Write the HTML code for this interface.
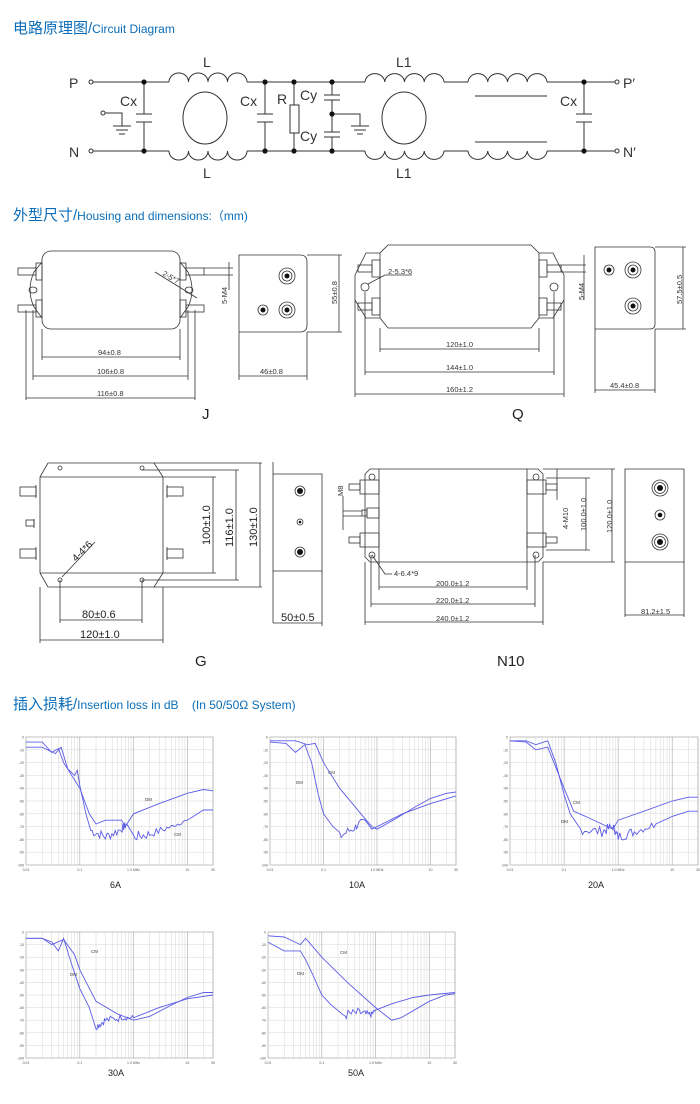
<!DOCTYPE html>
<html><head><meta charset="utf-8"><style>
html,body{margin:0;padding:0;background:#fff}
body{width:700px;height:1104px;overflow:hidden;position:relative;font-family:"Liberation Sans","Noto Sans CJK SC",sans-serif}
.t{position:absolute;color:#0b6db7;font-size:15px;white-space:nowrap}
.t small{font-size:12px}
svg{position:absolute;left:0;top:0}
</style></head><body>
<div class="t" style="left:13px;top:17px">电路原理图/<small>Circuit Diagram</small></div>
<div class="t" style="left:13px;top:204px">外型尺寸/<small>Housing and dimensions:（mm)</small></div>
<div class="t" style="left:13px;top:693px">插入损耗/<small>Insertion loss in dB &nbsp;&nbsp;&nbsp;(In 50/50Ω System)</small></div>
<svg id="s" width="700" height="1104" viewBox="0 0 700 1104" font-family="Liberation Sans, sans-serif">
<g stroke="#333" stroke-width="1" fill="none">
<!-- circuit wires -->
<path d="M93 82H169M247 82H365M444 82H468M547 82H615M93 151H169M247 151H365M444 151H468M547 151H615"/>
<circle cx="91" cy="82" r="2"/><circle cx="91" cy="151" r="2"/><circle cx="617" cy="82" r="2"/><circle cx="617" cy="151" r="2"/>
<path id="ind" d="M169 82a9.75 9 0 0 1 19.5 0a9.75 9 0 0 1 19.5 0a9.75 9 0 0 1 19.5 0a9.75 9 0 0 1 19.5 0"/>
<path d="M169 151a9.75 9 0 0 0 19.5 0a9.75 9 0 0 0 19.5 0a9.75 9 0 0 0 19.5 0a9.75 9 0 0 0 19.5 0"/>
<path d="M365 82a9.9 9 0 0 1 19.75 0a9.9 9 0 0 1 19.75 0a9.9 9 0 0 1 19.75 0a9.9 9 0 0 1 19.75 0"/>
<path d="M365 151a9.9 9 0 0 0 19.75 0a9.9 9 0 0 0 19.75 0a9.9 9 0 0 0 19.75 0a9.9 9 0 0 0 19.75 0"/>
<path d="M468 82a9.9 9 0 0 1 19.75 0a9.9 9 0 0 1 19.75 0a9.9 9 0 0 1 19.75 0a9.9 9 0 0 1 19.75 0"/>
<path d="M468 151a9.9 9 0 0 0 19.75 0a9.9 9 0 0 0 19.75 0a9.9 9 0 0 0 19.75 0a9.9 9 0 0 0 19.75 0"/>
<ellipse cx="205" cy="118" rx="22" ry="26"/><ellipse cx="404" cy="118" rx="22" ry="26"/>
<path d="M475 96H547M475 142H547"/>
<!-- caps -->
<path d="M144 82V114M136 114H152M136 122H152M144 122V151"/>
<path d="M265 82V114M257 114H273M257 122H273M265 122V151"/>
<path d="M584 82V114M576 114H592M576 122H592M584 122V151"/>
<path d="M294 82V105M294 133V151"/><rect x="290" y="105" width="9" height="28"/>
<path d="M332 82V95M324 95H340M324 100H340M332 100V132M324 132H340M324 137H340M332 137V151M332 114H360V126M351 126H369M354 130H366M357 134H363"/>
<path d="M105 113H122V126M113 126H131M116 130H128M119 134H125"/><circle cx="103" cy="113" r="2"/>
</g>
<g fill="#111"><circle cx="144" cy="82" r="2.6"/><circle cx="144" cy="151" r="2.6"/><circle cx="265" cy="82" r="2.6"/><circle cx="265" cy="151" r="2.6"/><circle cx="294" cy="82" r="2.6"/><circle cx="294" cy="151" r="2.6"/><circle cx="332" cy="82" r="2.6"/><circle cx="332" cy="151" r="2.6"/><circle cx="332" cy="114" r="2.6"/><circle cx="584" cy="82" r="2.6"/><circle cx="584" cy="151" r="2.6"/></g>
<g font-size="14" fill="#333">
<text x="69" y="88">P</text><text x="69" y="157">N</text><text x="623" y="88">P′</text><text x="623" y="157">N′</text>
<text x="203" y="67">L</text><text x="203" y="178">L</text><text x="396" y="67">L1</text><text x="396" y="178">L1</text>
<text x="120" y="106">Cx</text><text x="240" y="106">Cx</text><text x="277" y="104">R</text><text x="300" y="100">Cy</text><text x="300" y="141">Cy</text><text x="560" y="106">Cx</text>
</g>

<!-- J -->
<g stroke="#333" stroke-width="0.8" fill="none">
<rect x="42" y="251" width="138" height="78" rx="9"/>
<path d="M42 262L34 272Q26 290 34 307L42 318M180 262L188 272Q196 290 188 307L180 318"/>
<ellipse cx="33" cy="290" rx="4" ry="3"/><ellipse cx="189" cy="290" rx="4" ry="3"/>
<rect x="36" y="263" width="6" height="17"/><rect x="36" y="300" width="6" height="17"/><rect x="180" y="263" width="6" height="17"/><rect x="180" y="300" width="6" height="17"/>
<rect x="18" y="268" width="18" height="7"/><rect x="18" y="305" width="18" height="7"/><rect x="186" y="268" width="18" height="7"/><rect x="186" y="305" width="18" height="7"/>
<path d="M42 329V360M180 329V360M33 310V380M188 310V380M26 310V400M195 310V400"/>
<path d="M42 357H180M33 376H188M26 398H195"/>
<path d="M204 268H233M204 275H233M229 262V290M155 272L197 298"/>
<path d="M239 255H300Q307 255 307 262V325Q307 332 300 332H239ZM239 332V380M307 332V380M239 376H307M307 255H342M307 332H342M339 255V332"/>
<circle cx="287" cy="276" r="8"/><circle cx="287" cy="276" r="5"/><circle cx="287" cy="310" r="8"/><circle cx="287" cy="310" r="5"/><circle cx="263" cy="310" r="5"/>
</g>
<g fill="#111"><circle cx="287" cy="276" r="2.5"/><circle cx="287" cy="310" r="2.5"/><circle cx="263" cy="310" r="2.5"/></g>
<g font-size="7.5" fill="#333">
<text x="98" y="355">94±0.8</text><text x="97" y="374">106±0.8</text><text x="97" y="396">116±0.8</text><text x="260" y="374">46±0.8</text>
<text transform="translate(162,275) rotate(30)">2-5*7</text>
<text transform="translate(227,304) rotate(-90)">5-M4</text>
<text transform="translate(337,304) rotate(-90)">55±0.8</text>
</g>
<text x="202" y="419" font-size="15" fill="#222">J</text>

<!-- Q -->
<g stroke="#333" stroke-width="0.8" fill="none">
<path d="M388 245H531L539 253H553L564 275V300L553 318H539L531 328H388L380 318H366L355 300V275L366 253H380Z"/>
<path d="M380 253V318M539 253V318"/>
<circle cx="365" cy="287" r="4"/><circle cx="554" cy="287" r="4"/>
<rect x="372" y="260" width="8" height="17"/><rect x="372" y="298" width="8" height="17"/><rect x="539" y="260" width="8" height="17"/><rect x="539" y="298" width="8" height="17"/>
<rect x="358" y="265" width="14" height="7"/><rect x="358" y="303" width="14" height="7"/><rect x="547" y="265" width="14" height="7"/><rect x="547" y="303" width="14" height="7"/>
<path d="M380 328V352M539 328V352M365 292V375M554 292V375M355 300V397M564 300V397"/>
<path d="M380 349H539M365 372H554M355 394H564"/>
<path d="M561 265H586M561 272H586M584 255V300M368 284L385 275H412"/>
<path d="M595 247H650Q655 247 655 252V324Q655 329 650 329H595ZM595 329V393M655 329V393M595 390H655M655 247H686M655 329H686M683 247V329"/>
<circle cx="633" cy="270" r="8"/><circle cx="633" cy="270" r="5"/><circle cx="633" cy="306" r="8"/><circle cx="633" cy="306" r="5"/><circle cx="609" cy="270" r="5"/>
</g>
<g fill="#111"><circle cx="633" cy="270" r="2.5"/><circle cx="633" cy="306" r="2.5"/><circle cx="609" cy="270" r="2.5"/></g>
<g font-size="7.5" fill="#333">
<text x="446" y="347">120±1.0</text><text x="446" y="370">144±1.0</text><text x="446" y="392">160±1.2</text><text x="610" y="388">45.4±0.8</text>
<text x="388" y="274">2-5.3*6</text>
<text transform="translate(584,300) rotate(-90)">5-M4</text>
<text transform="translate(682,304) rotate(-90)">57.5±0.5</text>
</g>
<text x="512" y="419" font-size="15" fill="#222">Q</text>

<!-- G -->
<g stroke="#333" stroke-width="0.8" fill="none">
<path d="M48 463H154L163 477V573L154 587H48L40 573V477Z"/><path d="M40 477H163M40 573H163"/>
<circle cx="60" cy="468" r="2"/><circle cx="142" cy="468" r="2"/><circle cx="60" cy="580" r="2"/><circle cx="142" cy="580" r="2"/>
<rect x="20" y="487" width="16" height="9"/><rect x="20" y="549" width="16" height="9"/><rect x="167" y="487" width="16" height="9"/><rect x="167" y="549" width="16" height="9"/>
<rect x="26" y="520" width="8" height="6"/>
<path d="M36 485V498M36 547V560M167 485V498M167 547V560M34 519V528"/>
<path d="M163 477H216M163 573H216M142 470H239M142 580H239M154 463H262M154 587H262M213 477V573M236 470V580M260 463V587"/>
<path d="M60 580V623M142 580V623M60 620H142M40 587V643M163 587V643M40 640H163M62 577L95 542"/>
<path d="M273 474H322V571H273ZM273 462V623M322 571V626M273 623H322"/>
<circle cx="300" cy="491" r="5"/><circle cx="300" cy="552" r="5"/><circle cx="300" cy="522" r="3"/>
</g>
<g fill="#111"><circle cx="300" cy="491" r="3"/><circle cx="300" cy="552" r="3"/><circle cx="300" cy="522" r="1.3"/></g>
<g font-size="11" fill="#222">
<text x="82" y="618">80±0.6</text><text x="80" y="638">120±1.0</text><text x="281" y="621">50±0.5</text>
<text transform="translate(210,545) rotate(-90)">100±1.0</text>
<text transform="translate(233,547) rotate(-90)">116±1.0</text>
<text transform="translate(257,547) rotate(-90)">130±1.0</text>
<text transform="translate(76,562) rotate(-45)" font-size="10">4-4*6</text>
</g>
<text x="195" y="666" font-size="15" fill="#222">G</text>

<!-- N10 -->
<g stroke="#333" stroke-width="0.8" fill="none">
<path d="M370 469H538L543 474V557L538 562H370L365 557V474Z"/><path d="M379 469V562M527 469V562"/>
<circle cx="372" cy="477" r="3"/><circle cx="536" cy="477" r="3"/><circle cx="372" cy="555" r="3"/><circle cx="536" cy="555" r="3"/>
<rect x="360" y="480" width="19" height="14"/><rect x="349" y="484" width="11" height="6"/>
<rect x="360" y="533" width="19" height="14"/><rect x="349" y="537" width="11" height="6"/>
<rect x="367" y="508" width="12" height="10"/><rect x="362" y="510" width="5" height="6"/>
<path d="M343 511H362M343 516H362M343 496V530"/>
<rect x="527" y="480" width="19" height="14"/><rect x="546" y="484" width="11" height="6"/><rect x="527" y="533" width="19" height="14"/><rect x="546" y="537" width="11" height="6"/>
<path d="M557 469V500M543 469H615M546 478H590M543 562H615M546 550H590M586 478V550M612 469V562"/>
<path d="M379 562V590M527 562V590M371 555V607M535 555V607M365 562V625M543 562V625M379 587H527M371 604H535M365 622H543M372 555L385 574H392"/>
<path d="M625 469H684V562H625ZM625 562V617M684 562V617M625 615H684"/>
<circle cx="660" cy="488" r="8"/><circle cx="660" cy="488" r="5.5"/><circle cx="660" cy="542" r="8"/><circle cx="660" cy="542" r="5.5"/><circle cx="660" cy="515" r="5"/>
</g>
<g fill="#111"><circle cx="660" cy="488" r="3"/><circle cx="660" cy="542" r="3"/><circle cx="660" cy="515" r="2.3"/></g>
<g font-size="7.5" fill="#333">
<text x="436" y="586">200.0±1.2</text><text x="436" y="603">220.0±1.2</text><text x="436" y="621">240.0±1.2</text><text x="641" y="614">81.2±1.5</text>
<text x="394" y="576">4-6.4*9</text>
<text transform="translate(343,496) rotate(-90)">M8</text>
<text transform="translate(568,529) rotate(-90)">4-M10</text>
<text transform="translate(586,531) rotate(-90)">100.0±1.0</text>
<text transform="translate(612,533) rotate(-90)">120.0±1.0</text>
</g>
<text x="497" y="666" font-size="15" fill="#222">N10</text>

<g id="graphs"></g>
<g font-size="9" fill="#222">
<text x="110" y="888">6A</text><text x="349" y="888">10A</text><text x="588" y="888">20A</text>
<text x="108" y="1076">30A</text><text x="348" y="1076">50A</text>
</g>
</svg>
<script>
(function(){
var NS="http://www.w3.org/2000/svg",g=document.getElementById("graphs");
function el(n,a,p){var e=document.createElementNS(NS,n);for(var k in a)e.setAttribute(k,a[k]);(p||g).appendChild(e);return e;}
var seed=7;function rnd(){seed=(seed*9301+49297)%233280;return seed/233280;}
function graph(L,T,W,H,curves,labels){
 var D=Math.log10(3000);
 function X(f){return L+Math.log10(f/0.01)/D*W;}
 function Y(d){return T-d/100*H;}
 var p="";
 for(var i=1;i<10;i++)p+="M"+L+" "+(T+i*H/10).toFixed(1)+"H"+(L+W);
 var dec=[0.01,0.1,1,10];
 dec.forEach(function(b){for(var m=2;m<=9;m++){var f=b*m;if(f>30)break;var x=X(f).toFixed(1);p+="M"+x+" "+T+"V"+(T+H);}});
 el("path",{d:p,stroke:"#d6d6d6","stroke-width":"0.5",fill:"none"});
 var q="";[0.1,1,10].forEach(function(f){var x=X(f).toFixed(1);q+="M"+x+" "+T+"V"+(T+H);});
 el("path",{d:q,stroke:"#aaa","stroke-width":"0.6",fill:"none"});
 el("rect",{x:L,y:T,width:W,height:H,fill:"none",stroke:"#999","stroke-width":"0.6"});
 for(var i=0;i<=10;i++){var t=el("text",{x:L-2,y:T+i*H/10+1.5,"font-size":"3.5","text-anchor":"end",fill:"#555"});t.textContent=i?"-"+i*10:"0";}
 [[0.01,"0.01"],[0.1,"0.1"],[1,"1.0 MHz"],[10,"10"],[30,"30"]].forEach(function(a){var t=el("text",{x:X(a[0]),y:T+H+6,"font-size":"3.5","text-anchor":"middle",fill:"#555"});t.textContent=a[1];});
 curves.forEach(function(c){
  var pts=c.p,s="";
  for(var i=0;i<pts.length-1;i++){
   var a=pts[i],b=pts[i+1],n=c.n&&a[2]?10:1;
   for(var k=0;k<n;k++){var t=k/n;var lf=Math.log10(a[0])*(1-t)+Math.log10(b[0])*t;var d=a[1]*(1-t)+b[1]*t;if(n>1)d+=(rnd()-0.5)*a[2];s+=(s?"L":"M")+X(Math.pow(10,lf)).toFixed(1)+" "+Y(d).toFixed(1);}
  }
  var l=pts[pts.length-1];s+="L"+X(l[0]).toFixed(1)+" "+Y(l[1]).toFixed(1);
  el("path",{d:s,stroke:"#5c5ce6","stroke-width":"0.9",fill:"none"});
 });
 labels.forEach(function(a){var t=el("text",{x:a[0],y:a[1],"font-size":"4.5",fill:"#444"});t.textContent=a[2];});
}
var A=[[0.01,-4],[0.02,-4],[0.03,-12],[0.04,-9],[0.05,-20],[0.1,-40],[0.15,-60],[0.2,-68],[0.3,-65],[0.6,-65],[0.7,-70],[1,-60],[3,-52],[10,-44],[20,-41],[30,-42]];
var B=[[0.01,-8],[0.02,-8],[0.035,-13],[0.045,-8],[0.06,-25],[0.08,-30],[0.09,-26],[0.1,-38],[0.13,-60],[0.16,-73,8],[0.3,-78,8],[0.6,-72,6],[0.75,-68],[1,-78,8],[2,-76,6],[5,-70,3],[10,-65],[20,-57],[30,-57]];
graph(26,737,187,128,[{p:A},{p:B,n:1}],[[145,801,"DM"],[174,836,"CM"]]);
var A2=[[0.01,-3],[0.03,-3],[0.05,-6],[0.07,-5],[0.1,-20],[0.2,-40],[0.5,-60],[0.8,-70],[1,-72],[2,-65],[5,-55],[10,-48],[20,-44],[30,-43]];
var B2=[[0.01,-4],[0.02,-5],[0.03,-12],[0.045,-6],[0.06,-20],[0.08,-45],[0.1,-60],[0.15,-70],[0.2,-78,8],[0.4,-70,6],[0.6,-65],[0.8,-72],[1,-70],[3,-60],[10,-52],[30,-46]];
graph(270,737,186,128,[{p:A2},{p:B2,n:1}],[[328,774,"CM"],[296,784,"DM"]]);
var A3=[[0.01,-3],[0.02,-3],[0.03,-6],[0.05,-3],[0.07,-20],[0.1,-45],[0.13,-60],[0.2,-72,8],[0.5,-74,8],[0.8,-70,6],[1,-78,8],[2,-74,6],[5,-68],[10,-62],[20,-58],[30,-58]];
var B3=[[0.01,-3],[0.02,-4],[0.03,-10],[0.05,-8],[0.1,-40],[0.15,-58],[0.25,-62],[0.5,-68],[0.8,-72],[1,-65],[3,-58],[10,-50],[20,-47],[30,-47]];
graph(510,737,188,128,[{p:A3,n:1},{p:B3}],[[573,804,"CM"],[561,823,"DM"]]);
var A4=[[0.01,-5],[0.02,-5],[0.03,-10],[0.05,-6],[0.08,-18],[0.1,-30],[0.2,-55],[0.5,-65],[1,-70],[2,-67],[5,-58],[10,-52],[20,-48],[30,-48]];
var B4=[[0.01,-5],[0.02,-5],[0.03,-8],[0.04,-15],[0.05,-5],[0.07,-25],[0.1,-45],[0.15,-60],[0.2,-75,6],[0.3,-70,6],[0.6,-68,4],[1,-68],[3,-60],[10,-53],[30,-50]];
graph(26,932,187,126,[{p:A4},{p:B4,n:1}],[[91,953,"CM"],[70,976,"DM"]]);
var A5=[[0.01,-3],[0.02,-4],[0.04,-10],[0.05,-5],[0.1,-20],[0.3,-40],[1,-60],[2,-70],[3,-68],[10,-55],[20,-50],[30,-49]];
var B5=[[0.01,-8],[0.02,-15],[0.04,-15],[0.05,-22],[0.07,-35],[0.1,-50],[0.15,-58],[0.25,-66,8],[0.5,-64,6],[0.8,-66,4],[1,-62],[2,-57],[5,-52],[10,-50],[30,-48]];
graph(268,932,187,126,[{p:A5},{p:B5,n:1}],[[340,954,"CM"],[297,975,"DM"]]);
})();
</script>
</body></html>
